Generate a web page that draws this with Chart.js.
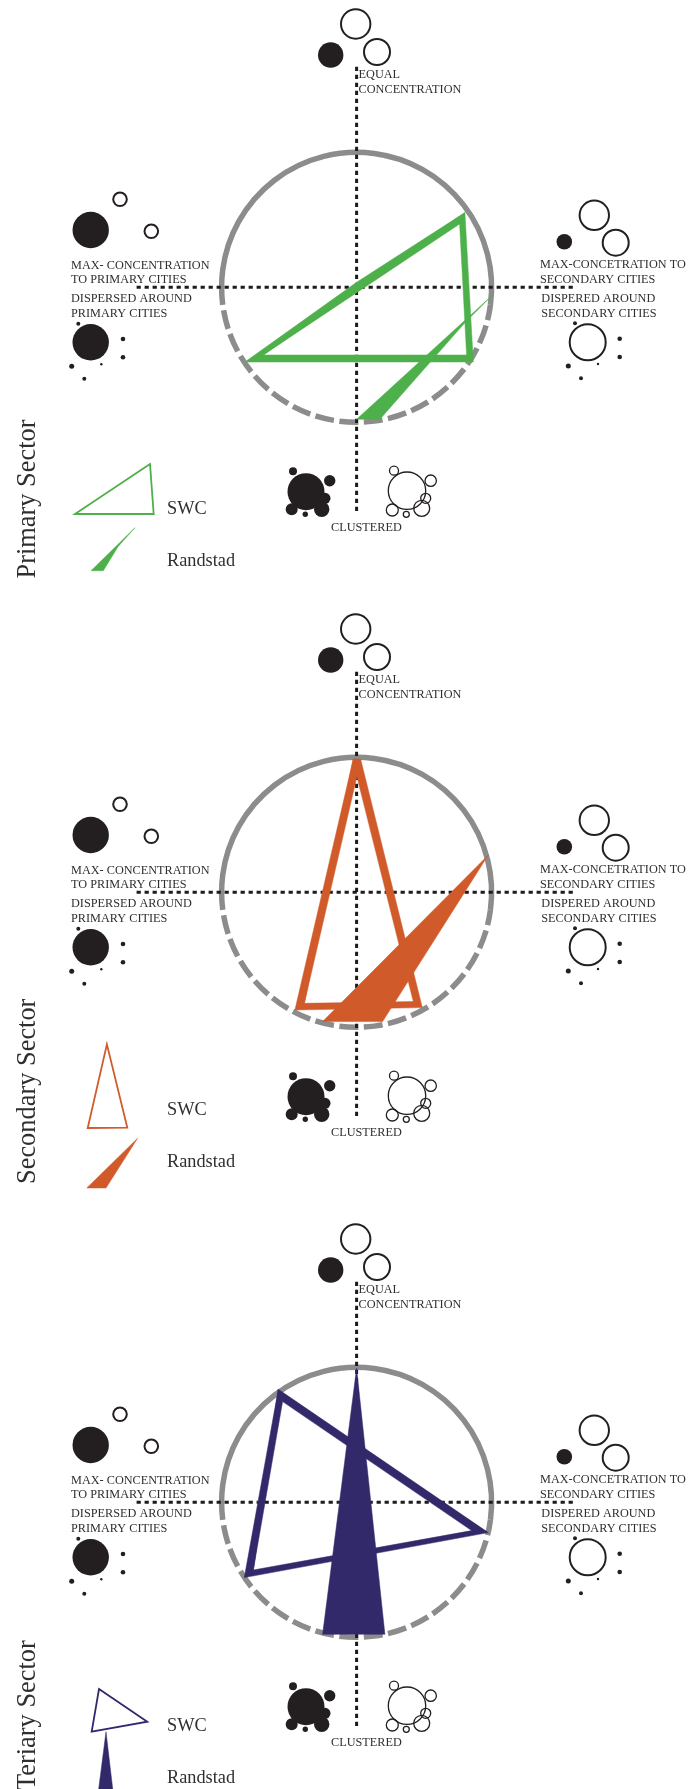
<!DOCTYPE html>
<html>
<head>
<meta charset="utf-8">
<title>Primary, Secondary and Tertiary Sector</title>
<script src="https://cdn.jsdelivr.net/npm/chart.js"></script>
<style>
  html, body { margin: 0; padding: 0; background: #fff; }
  #wrap { width: 698px; height: 1789px; overflow: hidden; }
</style>
</head>
<body>
<div id="wrap"><canvas id="myChart" width="698" height="1789"></canvas></div>
<script>
// sectors, top to bottom
const sectorNames = ['Primary Sector', 'Secondary Sector', 'Teriary Sector'];
const sectorColors = ['#4db04a', '#d05a29', '#32296b'];
const panelCenterX = 356.6;
const panelCenterY = [287.3, 892.3, 1502.3];
const panelShift = [0, 605, 1215];
const ringRadius = 135;

// SWC triangles on the diagram: outer edge then inner edge, relative to the centre
const swcOuter = [
  [[108.3, -74.7], [116.7, 74.7], [-111.7, 74.7], [0, -5]],
  [[-3.3, -133.3], [4, -133.3], [65.7, 115.3], [-61.7, 117.7]],
  [[-78.3, -113], [131.7, 30.3], [-112.3, 75.3]]
];
const swcInner = [
  [[103, -63.3], [110, 67.7], [-93.3, 67.7]],
  [[0.3, -115.7], [56.7, 109.3], [-52.3, 111]],
  [[-74, -100.7], [115, 28.3], [-103.3, 67.7]]
];

// Randstad triangles on the diagram, relative to the centre
const randstad = [
  [[136, 7.7], [108.7, 35], [23.3, 132], [0, 132]],
  [[131.7, -37.3], [26, 129.3], [-34, 129.3]],
  [[0, -134], [28.3, 132], [-34, 132]]
];

// legend keys, page position
const legendSwc = [
  [[75, 514], [150, 464], [153.7, 514]],
  [[106.9, 1044.4], [127.3, 1127.6], [87.7, 1128]],
  [[99, 1689], [147.3, 1721.7], [91.7, 1731.7]]
];
const legendRandstad = [
  [[135, 527.7], [118, 546.7], [103.3, 570.7], [91, 570.7]],
  [[137.6, 1138.3], [106, 1188], [86.8, 1188]],
  [[106, 1731.7], [112.7, 1789], [98.7, 1789]]
];
const legendBaseline = [[514, 565.7], [1115.2, 1167], [1731, 1782.7]];
const legendNames = ['SWC', 'Randstad'];

// dotted axes, relative to the centre
const axisVertical = [[0, -220.6], [0, 223.7]];
const axisHorizontal = [[-220, 0], [217, 0]];

// city glyphs of the first panel: x, y, r
const citiesFilled = [
  [330.7, 55, 12.7],
  [90.7, 230, 18.2], [90.7, 342.3, 18.2],
  [78.3, 323.7, 2], [123, 339, 2.3], [123, 357.3, 2.3], [71.7, 366.3, 2.5], [84.3, 378.7, 2], [101.3, 364.3, 1.2],
  [564.3, 241.7, 7.8],
  [575, 323.3, 2], [619.7, 338.7, 2.3], [619.7, 357, 2.3], [568.3, 366, 2.5], [581, 378.3, 2], [598, 364, 1.2],
  [306, 491.7, 18.5], [293, 471.3, 4], [329.7, 480.7, 5.7], [325, 498.3, 5.5], [321.7, 509.3, 7.7], [291.7, 509.3, 6], [305.3, 514.3, 2.7]
];
const citiesOpen = [
  [355.7, 24, 14.7], [377, 52, 13],
  [120, 199.3, 6.8], [151.3, 231.3, 6.8],
  [594.3, 215.3, 14.7], [615.7, 242.7, 13],
  [587.7, 342.3, 18]
];
const citiesOpenThin = [
  [407, 490.7, 18.7], [394, 470.7, 4.5], [430.7, 480.7, 5.7], [425.7, 498.3, 5], [421.7, 508.3, 8], [392.3, 510, 6], [406.3, 514.3, 3]
];

// labels repeated on every panel, positions of the first panel
const labelText = ['EQUAL', 'CONCENTRATION', 'MAX- CONCENTRATION', 'TO PRIMARY CITIES', 'DISPERSED AROUND', 'PRIMARY CITIES',
  'MAX-CONCETRATION TO', 'SECONDARY CITIES', 'DISPERED AROUND', 'SECONDARY CITIES', 'CLUSTERED'];
const labelX = [358.6, 358.6, 71, 71, 71, 71, 540, 540, 541.3, 541.3, 331];
const labelY = [78.3, 93.3, 269, 283.3, 302.3, 317, 268, 282.7, 302.3, 317, 530.7];

const sectorTitleStart = [578.5, 1184, 1790];
const sectorTitleX = 35;

const relToPage = (pts, cy) => pts.map(p => ({ x: panelCenterX + p[0], y: cy + p[1] }));
const closePts = pts => pts.concat([pts[0]]);
const atPage = pts => pts.map(p => ({ x: p[0], y: p[1] }));

// outer edge and reversed inner edge, so the fill leaves a hole
function ring(outer, inner) {
  return closePts(outer).concat(closePts(inner.slice().reverse())).concat([outer[0]]);
}

const datasets = [];

function shapeSet(data, color) {
  return {
    type: 'scatter', data, showLine: true, fill: 'shape', backgroundColor: color, borderColor: color,
    borderWidth: 0.5, borderJoinStyle: 'miter', pointRadius: 0, tension: 0
  };
}

function citySet(rows, fill, stroke, width) {
  const data = [];
  panelShift.forEach(dy => rows.forEach(c => data.push({ x: c[0], y: c[1] + dy, r: c[2] })));
  return { type: 'bubble', data, backgroundColor: fill, borderColor: stroke, borderWidth: width };
}

// first dataset ends up on top
sectorNames.forEach((name, i) => {
  const cy = panelCenterY[i];
  datasets.push(shapeSet(relToPage(closePts(randstad[i]), cy), sectorColors[i]));
  datasets.push(shapeSet(relToPage(ring(swcOuter[i], swcInner[i]), cy), sectorColors[i]));
  datasets.push(shapeSet(atPage(closePts(legendRandstad[i])), sectorColors[i]));
  const key = legendSwc[i];
  datasets.push({
    type: 'scatter', data: atPage(key.concat(key.slice(0, 2))), showLine: true, borderColor: sectorColors[i],
    borderWidth: 1.8, borderJoinStyle: 'miter', pointRadius: 0, tension: 0
  });
});

panelCenterY.forEach(cy => {
  [axisVertical, axisHorizontal].forEach(axis => {
    datasets.push({
      type: 'scatter', data: relToPage(axis, cy), showLine: true, borderColor: '#1c1a1b',
      borderWidth: 3, borderDash: [4.2, 3.8], pointRadius: 0
    });
  });
});

datasets.push(citySet(citiesFilled, '#231f20', '#231f20', 0));
datasets.push(citySet(citiesOpen, 'transparent', '#231f20', 2));
datasets.push(citySet(citiesOpenThin, 'transparent', '#231f20', 1.3));

// grey ring: solid on top, dashed below
const ringPlugin = {
  id: 'ringPlugin',
  beforeDatasetsDraw(chart) {
    const { ctx, scales } = chart;
    const skew = 7.5 * Math.PI / 180;
    ctx.save();
    ctx.strokeStyle = '#8c8c8c';
    ctx.lineWidth = 5.5;
    panelCenterY.forEach(cy => {
      const px = scales.x.getPixelForValue(panelCenterX);
      const py = scales.y.getPixelForValue(cy);
      ctx.setLineDash([]);
      ctx.beginPath();
      ctx.arc(px, py, ringRadius, skew, Math.PI - skew, true);
      ctx.stroke();
      ctx.setLineDash([19, 5.5]);
      ctx.lineDashOffset = -5.5;
      ctx.beginPath();
      ctx.arc(px, py, ringRadius, Math.PI - skew, skew, true);
      ctx.stroke();
    });
    ctx.restore();
  }
};

// the labels as text, placed through the same scales
const labelPlugin = {
  id: 'labelPlugin',
  afterDatasetsDraw(chart) {
    const { ctx, scales } = chart;
    ctx.save();
    ctx.fillStyle = '#2f2f2f';
    ctx.textBaseline = 'alphabetic';
    panelShift.forEach((dy, i) => {
      ctx.font = '12.25px "Liberation Serif"';
      labelText.forEach((t, j) => {
        ctx.fillText(t, scales.x.getPixelForValue(labelX[j]), scales.y.getPixelForValue(labelY[j] + dy));
      });
      ctx.font = '18.3px "Liberation Serif"';
      legendNames.forEach((t, j) => {
        ctx.fillText(t, scales.x.getPixelForValue(167), scales.y.getPixelForValue(legendBaseline[i][j]));
      });
      ctx.save();
      ctx.font = '26.4px "Liberation Serif"';
      ctx.translate(scales.x.getPixelForValue(sectorTitleX), scales.y.getPixelForValue(sectorTitleStart[i]));
      ctx.rotate(-Math.PI / 2);
      ctx.fillText(sectorNames[i], 0, 0);
      ctx.restore();
    });
    ctx.restore();
  }
};

new Chart(document.getElementById('myChart').getContext('2d'), {
  type: 'scatter',
  data: { datasets },
  options: {
    responsive: false,
    animation: false,
    layout: { padding: 0, autoPadding: false },
    plugins: { legend: { display: false }, tooltip: { enabled: false } },
    scales: {
      x: { type: 'linear', display: false, min: 0, max: 698 },
      y: { type: 'linear', display: false, min: 0, max: 1789, reverse: true }
    }
  },
  plugins: [ringPlugin, labelPlugin]
});
</script>
</body>
</html>
